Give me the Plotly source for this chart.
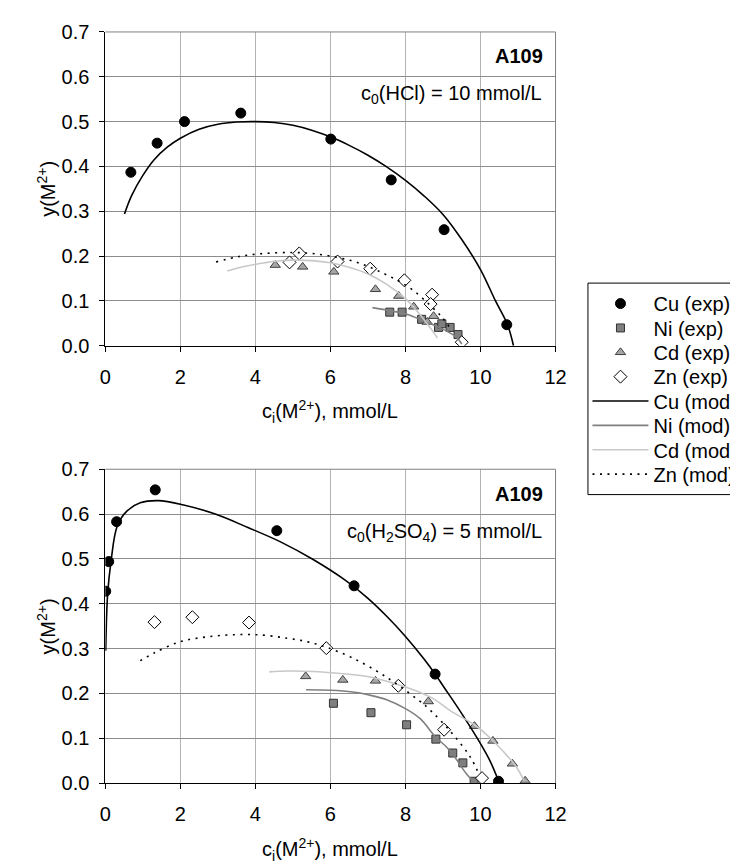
import plotly.graph_objects as go

W, H = 738, 865
FONT = "Liberation Sans, Arial, sans-serif"
FS = 20

# ---------------- top panel: c0(HCl) = 10 mmol/L ----------------
cu_exp_top_x = [0.68, 1.38, 2.11, 3.61, 6.01, 7.62, 9.03, 10.70]
cu_exp_top_y = [0.387, 0.452, 0.500, 0.519, 0.461, 0.370, 0.259, 0.047]
ni_exp_top_x = [7.58, 7.91, 8.43, 8.88, 8.97, 9.19, 9.40]
ni_exp_top_y = [0.075, 0.075, 0.059, 0.041, 0.049, 0.041, 0.025]
cd_exp_top_x = [4.53, 5.26, 6.09, 7.20, 7.82, 8.22, 8.58, 8.75]
cd_exp_top_y = [0.180, 0.176, 0.165, 0.126, 0.111, 0.087, 0.053, 0.066]
zn_exp_top_x = [4.91, 5.17, 6.19, 7.06, 7.97, 8.71, 8.67, 9.50]
zn_exp_top_y = [0.186, 0.206, 0.188, 0.172, 0.146, 0.114, 0.093, 0.008]

cu_mod_top_x = [0.51, 0.70, 1.00, 1.30, 1.65, 2.00, 2.50, 3.00, 3.50, 4.00, 4.50, 5.00, 5.50, 6.00, 6.50, 7.00, 7.50, 8.00, 8.50, 9.00, 9.50, 10.00, 10.40, 10.72, 10.88]
cu_mod_top_y = [0.294, 0.335, 0.380, 0.415, 0.443, 0.463, 0.483, 0.494, 0.499, 0.500, 0.498, 0.492, 0.481, 0.466, 0.447, 0.425, 0.399, 0.369, 0.334, 0.293, 0.237, 0.170, 0.100, 0.047, 0.000]
ni_mod_top_x = [7.12, 7.60, 8.06, 8.49, 8.92, 9.36, 9.50]
ni_mod_top_y = [0.085, 0.078, 0.070, 0.055, 0.040, 0.019, 0.004]
cd_mod_top_x = [3.25, 3.70, 4.25, 4.60, 5.00, 5.50, 6.00, 6.50, 7.00, 7.50, 8.00, 8.30, 8.60, 8.85]
cd_mod_top_y = [0.167, 0.177, 0.185, 0.189, 0.191, 0.190, 0.185, 0.175, 0.160, 0.137, 0.105, 0.078, 0.047, 0.018]
zn_mod_top_x = [2.95, 3.56, 4.25, 5.00, 5.50, 6.00, 6.55, 7.00, 7.45, 7.85, 8.23, 8.66, 8.97, 9.20]
zn_mod_top_y = [0.187, 0.199, 0.206, 0.208, 0.206, 0.200, 0.190, 0.177, 0.160, 0.143, 0.122, 0.090, 0.064, 0.038]

# ---------------- bottom panel: c0(H2SO4) = 5 mmol/L ----------------
cu_exp_bot_x = [0.01, 0.09, 0.30, 1.33, 4.57, 6.63, 8.79, 10.48]
cu_exp_bot_y = [0.428, 0.494, 0.583, 0.654, 0.563, 0.440, 0.243, 0.004]
ni_exp_bot_x = [6.08, 7.08, 8.03, 8.81, 9.26, 9.53, 9.83]
ni_exp_bot_y = [0.178, 0.157, 0.130, 0.098, 0.067, 0.045, 0.004]
cd_exp_bot_x = [5.34, 6.33, 7.20, 8.61, 9.84, 10.33, 10.85, 11.19]
cd_exp_bot_y = [0.238, 0.230, 0.228, 0.182, 0.127, 0.094, 0.043, 0.005]
zn_exp_bot_x = [1.31, 2.32, 3.83, 5.89, 7.81, 9.03, 10.04]
zn_exp_bot_y = [0.359, 0.370, 0.358, 0.301, 0.217, 0.119, 0.011]

cu_mod_bot_x = [0.01, 0.06, 0.15, 0.32, 0.58, 0.93, 1.41, 2.06, 2.93, 3.80, 4.67, 5.55, 6.42, 7.00, 7.50, 8.00, 8.50, 8.79, 9.00, 9.50, 10.00, 10.25, 10.48]
cu_mod_bot_y = [0.295, 0.420, 0.494, 0.574, 0.607, 0.625, 0.630, 0.621, 0.600, 0.570, 0.538, 0.498, 0.451, 0.412, 0.372, 0.327, 0.276, 0.243, 0.217, 0.155, 0.088, 0.050, 0.005]
ni_mod_bot_x = [5.35, 6.00, 6.60, 7.00, 7.50, 8.00, 8.40, 8.80, 9.10, 9.30, 9.50, 9.65, 9.82]
ni_mod_bot_y = [0.208, 0.207, 0.203, 0.197, 0.186, 0.166, 0.143, 0.103, 0.080, 0.060, 0.035, 0.018, 0.003]
cd_mod_bot_x = [4.37, 4.85, 5.55, 6.20, 7.02, 7.70, 8.33, 8.80, 9.20, 9.84, 10.20, 10.59, 10.94, 11.16]
cd_mod_bot_y = [0.248, 0.250, 0.249, 0.245, 0.237, 0.222, 0.204, 0.185, 0.161, 0.130, 0.105, 0.072, 0.038, 0.005]
zn_mod_bot_x = [0.93, 1.30, 1.98, 2.70, 3.46, 4.20, 4.85, 5.40, 5.89, 6.59, 7.46, 8.33, 8.68, 9.22, 9.72, 9.98]
zn_mod_bot_y = [0.273, 0.290, 0.315, 0.326, 0.331, 0.330, 0.323, 0.315, 0.303, 0.279, 0.238, 0.186, 0.161, 0.113, 0.059, 0.016]

x_ticks = [0, 2, 4, 6, 8, 10, 12]
y_ticks = [0.0, 0.1, 0.2, 0.3, 0.4, 0.5, 0.6, 0.7]

exp_names = ["Cu (exp)", "Ni (exp)", "Cd (exp)", "Zn (exp)"]
mod_names = ["Cu (mod)", "Ni (mod)", "Cd (mod)", "Zn (mod)"]

exp_styles = [
    dict(symbol="circle", size=10, color="black", line=dict(color="black", width=1)),
    dict(symbol="square", size=8, color="#7f7f7f", line=dict(color="#333333", width=1)),
    dict(symbol="triangle-up", size=9, color="#a6a6a6", line=dict(color="#404040", width=1)),
    dict(symbol="diamond", size=10, color="white", line=dict(color="black", width=1)),
]
mod_styles = [
    dict(color="black", width=1.6, dash="solid"),
    dict(color="#808080", width=1.6, dash="solid"),
    dict(color="#c8c8c8", width=1.6, dash="solid"),
    dict(color="black", width=1.6, dash="2px,5.5px"),
]

panels = [
    ("x", "y",
     [(cu_exp_top_x, cu_exp_top_y), (ni_exp_top_x, ni_exp_top_y), (cd_exp_top_x, cd_exp_top_y), (zn_exp_top_x, zn_exp_top_y)],
     [(cu_mod_top_x, cu_mod_top_y), (ni_mod_top_x, ni_mod_top_y), (cd_mod_top_x, cd_mod_top_y), (zn_mod_top_x, zn_mod_top_y)],
     True),
    ("x2", "y2",
     [(cu_exp_bot_x, cu_exp_bot_y), (ni_exp_bot_x, ni_exp_bot_y), (cd_exp_bot_x, cd_exp_bot_y), (zn_exp_bot_x, zn_exp_bot_y)],
     [(cu_mod_bot_x, cu_mod_bot_y), (ni_mod_bot_x, ni_mod_bot_y), (cd_mod_bot_x, cd_mod_bot_y), (zn_mod_bot_x, zn_mod_bot_y)],
     False),
]


def legend_id(k):
    return "legend" if k == 0 else "legend%d" % (k + 1)


fig = go.Figure()
for xa, ya, exps, mods, show in panels:
    for i, (xs, ys) in enumerate(exps):
        fig.add_trace(go.Scatter(x=xs, y=ys, mode="markers", name=exp_names[i],
                                 marker=exp_styles[i], xaxis=xa, yaxis=ya,
                                 showlegend=show, legend=legend_id(i)))
for xa, ya, exps, mods, show in panels:
    for i, (xs, ys) in enumerate(mods):
        fig.add_trace(go.Scatter(x=xs, y=ys, mode="lines", name=mod_names[i],
                                 line=dict(**mod_styles[i], shape="spline", smoothing=1.0),
                                 xaxis=xa, yaxis=ya, showlegend=show, legend=legend_id(i + 4)))


def px_x(p):
    return p / W


def px_y(p):
    return 1 - p / H


top_dom = [px_y(335.3), px_y(13.3)]
bot_dom = [px_y(784), px_y(462)]
x_dom = [px_x(93.5), px_x(554.3)]

axis_common = dict(showline=True, linecolor="black", linewidth=1, ticks="outside",
                   ticklen=5, tickcolor="black", tickfont=dict(size=FS, color="black"),
                   zeroline=False, showgrid=True, gridwidth=1)
xax = dict(axis_common, range=[0, 12], tickvals=x_ticks, gridcolor="#b4b4b4",
           ticklabelstandoff=8)
yax = dict(axis_common, range=[0, 0.7], tickvals=y_ticks, tickformat=".1f",
           gridcolor="#8c8c8c", ticklabelstandoff=6)

annotations = [
    dict(text="<b>A109</b>", x=px_x(544), y=px_y(38), xanchor="right", yanchor="middle"),
    dict(text="c<sub>0</sub>(HCl) = 10 mmol/L", x=px_x(542), y=px_y(77), xanchor="right", yanchor="middle"),
    dict(text="<b>A109</b>", x=px_x(544), y=px_y(487), xanchor="right", yanchor="middle"),
    dict(text="c<sub>0</sub>(H<sub>2</sub>SO<sub>4</sub>) = 5 mmol/L", x=px_x(542), y=px_y(527), xanchor="right", yanchor="middle"),
    dict(text="y(M<sup>2+</sup>)", x=px_x(33), y=px_y(174), textangle=-90, xanchor="center", yanchor="middle"),
    dict(text="y(M<sup>2+</sup>)", x=px_x(33), y=px_y(623), textangle=-90, xanchor="center", yanchor="middle"),
    dict(text="c<sub>i</sub>(M<sup>2+</sup>), mmol/L", x=px_x(323), y=px_y(403), xanchor="center", yanchor="middle"),
    dict(text="c<sub>i</sub>(M<sup>2+</sup>), mmol/L", x=px_x(323), y=px_y(852), xanchor="center", yanchor="middle"),
]
for a in annotations:
    a.update(xref="paper", yref="paper", showarrow=False, font=dict(size=FS, color="black"))

shapes = []
for xr, yr in [("x domain", "y domain"), ("x2 domain", "y2 domain")]:
    shapes.append(dict(type="line", xref=xr, yref=yr, x0=0, x1=1, y0=1, y1=1, line=dict(color="#808080", width=1)))
    shapes.append(dict(type="line", xref=xr, yref=yr, x0=1, x1=1, y0=0, y1=1, line=dict(color="#808080", width=1)))
# legend frame (the legend runs off the right edge of the page, as in the reference)
shapes.append(dict(type="rect", xref="paper", yref="paper", x0=px_x(587.5), x1=px_x(790),
                   y0=px_y(488), y1=px_y(271), line=dict(color="black", width=1),
                   fillcolor="rgba(0,0,0,0)", layer="below"))

layout_legends = {}
item_centers = [292, 317, 342, 367, 392, 417, 442, 467]
for k, cy in enumerate(item_centers):
    layout_legends[legend_id(k)] = dict(
        x=px_x(587), y=px_y(cy), xanchor="left", yanchor="middle",
        borderwidth=0, bgcolor="rgba(0,0,0,0)", itemwidth=56,
        font=dict(size=FS, color="black"))

fig.update_layout(
    width=W, height=H,
    margin=dict(l=0, r=0, t=0, b=0),
    paper_bgcolor="white", plot_bgcolor="white",
    font=dict(family=FONT, size=FS, color="black"),
    xaxis=dict(xax, domain=x_dom, anchor="y"),
    yaxis=dict(yax, domain=top_dom, anchor="x"),
    xaxis2=dict(xax, domain=x_dom, anchor="y2"),
    yaxis2=dict(yax, domain=bot_dom, anchor="x2"),
    annotations=annotations,
    shapes=shapes,
    showlegend=True,
    **layout_legends,
)

fig.write_html("out.html")
